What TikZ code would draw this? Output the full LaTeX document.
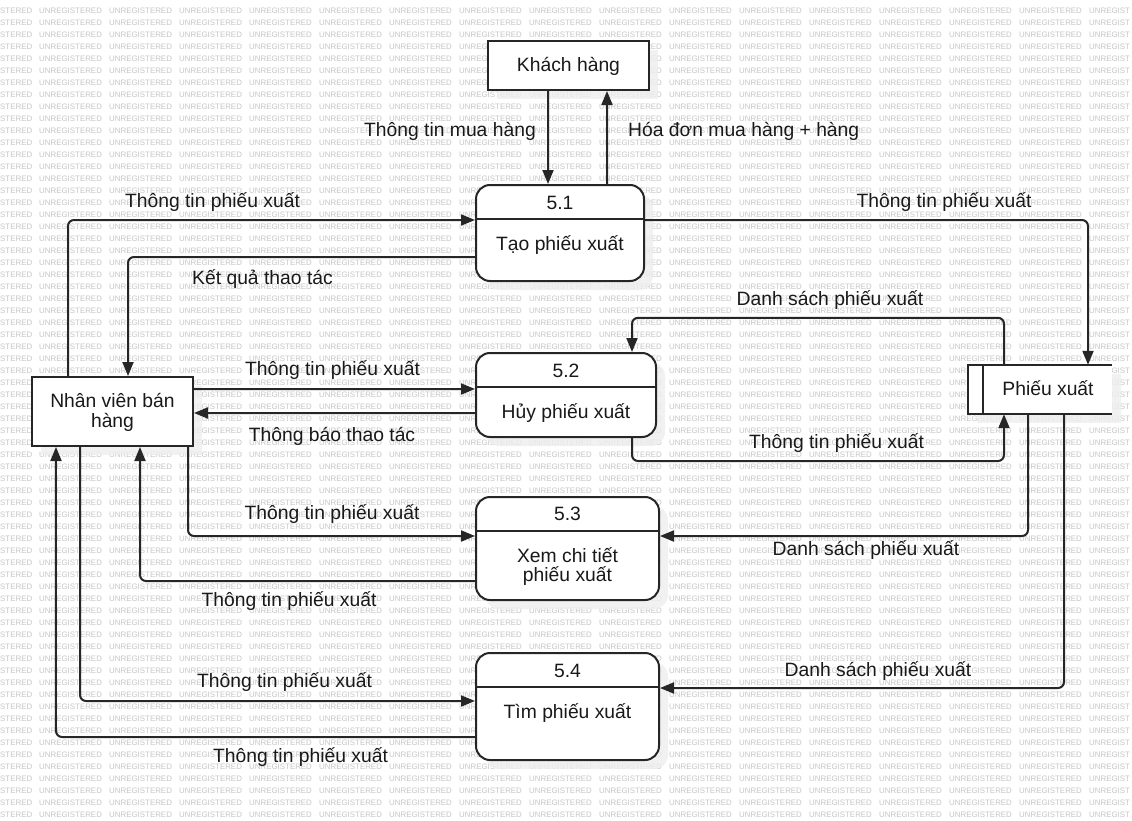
\documentclass[tikz,border=0pt]{standalone}
\usepackage{fontspec}
\setmainfont{Liberation Sans}
\usetikzlibrary{arrows.meta,shadows}
\definecolor{wmgray}{RGB}{198,198,198}
\definecolor{ink}{RGB}{38,38,38}
\definecolor{txtcol}{RGB}{25,25,25}
\definecolor{shade}{RGB}{238,238,238}
\newcommand\wmline{\makebox[39bp][l]{STERED}\foreach \i in {1,...,15}{\makebox[70bp][l]{UNREGISTERED}}UNREGIST}
\tikzset{
  wmtext/.style={anchor=base west, inner sep=0pt, text=wmgray, font=\fontsize{7.9bp}{8bp}\selectfont},
  boxshadow/.style={drop shadow={shadow xshift=9bp, shadow yshift=-9bp, fill=shade, opacity=0.8}},
  entity/.style={rectangle, draw=ink, line width=2bp, fill=white, inner sep=0pt, boxshadow},
  procbox/.style={rectangle, rounded corners=14bp, draw=ink, line width=2bp, fill=white, inner sep=0pt, boxshadow},
  storebox/.style={rectangle, fill=white, inner sep=0pt, boxshadow},
  txt/.style={inner sep=0pt, anchor=base, text=txtcol, font=\fontsize{19.3bp}{19.5bp}\selectfont},
  flow/.style={draw=ink, line width=2bp, rounded corners=6bp, -{Triangle[length=14bp,width=11bp]}},
  rulel/.style={draw=ink, line width=2bp},
}
\begin{document}
\begin{tikzpicture}[x=1bp,y=-1bp]
\useasboundingbox (0,0) rectangle (1132,821);
\fill[white] (0,0) rectangle (1132,821);
% watermark
\foreach \k in {0,...,67}{
  \node[wmtext] (wm\k) at (0, {13.55+12*\k}) {\wmline};
}

% boxes
\node[entity, minimum width=161bp, minimum height=49bp] (kh) at (568.5,65.5) {};
\node[txt] (khT) at (568.5,71.7) {Khách hàng};

\node[entity, minimum width=161bp, minimum height=69bp] (nv) at (112.5,411.5) {};
\node[txt] (nvT1) at (112.5,407.7) {Nhân viên bán};
\node[txt] (nvT2) at (112.5,427) {hàng};

\node[storebox, minimum width=144bp, minimum height=49bp] (px) at (1040,389.5) {};
\draw[rulel] (px.north east) -- (px.north west) -- (px.south west) -- (px.south east);
\draw[rulel] ([xshift=15bp]px.north west) -- ([xshift=15bp]px.south west);
\node[txt] (pxT) at (1048,395.7) {Phiếu xuất};

\node[procbox, minimum width=168bp, minimum height=96bp] (p1) at (560,233) {};
\draw[rulel] ([yshift=-34.5bp]p1.north west) -- ([yshift=-34.5bp]p1.north east);
\node[txt] (p1a) at (560,209) {5.1};
\node[txt] (p1b) at (560,250) {Tạo phiếu xuất};

\node[procbox, minimum width=180bp, minimum height=84bp] (p2) at (566,395) {};
\draw[rulel] ([yshift=-34.5bp]p2.north west) -- ([yshift=-34.5bp]p2.north east);
\node[txt] (p2a) at (566,377.5) {5.2};
\node[txt] (p2b) at (566,418) {Hủy phiếu xuất};

\node[procbox, minimum width=183bp, minimum height=103bp] (p3) at (567.5,548.5) {};
\draw[rulel] ([yshift=-34.5bp]p3.north west) -- ([yshift=-34.5bp]p3.north east);
\node[txt] (p3a) at (567.5,520.5) {5.3};
\node[txt] (p3b) at (567.5,562.7) {Xem chi tiết};
\node[txt] (p3c) at (567.5,581.5) {phiếu xuất};

\node[procbox, minimum width=183bp, minimum height=107bp] (p4) at (567.5,706.5) {};
\draw[rulel] ([yshift=-34.5bp]p4.north west) -- ([yshift=-34.5bp]p4.north east);
\node[txt] (p4a) at (567.5,677) {5.4};
\node[txt] (p4b) at (567.5,718.5) {Tìm phiếu xuất};

% connectors
\draw[flow] ([xshift=-20.5bp]kh.south) -- ([xshift=-12bp]p1.north);
\draw[flow] ([xshift=47bp]p1.north) -- ([xshift=38.5bp]kh.south);
\draw[flow] ([xshift=-44.5bp]nv.north) |- ([yshift=13bp]p1.west);
\draw[flow] ([yshift=-24bp]p1.west) -| ([xshift=15.5bp]nv.north);
\draw[flow] ([yshift=13bp]p1.east) -| ([xshift=48bp]px.north);
\draw[flow] ([xshift=-36bp]px.north) -- ++(0,-47) -| ([xshift=66bp]p2.north);
\draw[flow] ([xshift=66bp]p2.south) -- ++(0,23) -| ([xshift=-36bp]px.south);
\draw[flow] ([yshift=22.5bp]nv.east) -- ([yshift=6bp]p2.west);
\draw[flow] ([yshift=-18bp]p2.west) -- ([yshift=-1.5bp]nv.east);
\draw[flow] ([xshift=75.5bp]nv.south) |- ([yshift=12.5bp]p3.west);
\draw[flow] ([yshift=-32.5bp]p3.west) -| ([xshift=27.5bp]nv.south);
\draw[flow] ([xshift=-32.5bp]nv.south) |- ([yshift=5.5bp]p4.west);
\draw[flow] ([yshift=-30.5bp]p4.west) -| ([xshift=-56.5bp]nv.south);
\draw[flow] ([xshift=-12bp]px.south) |- ([yshift=12.5bp]p3.east);
\draw[flow] ([xshift=24bp]px.south) |- ([yshift=18.5bp]p4.east);

% labels
\node[txt, anchor=base east] (l1) at (536,136) {Thông tin mua hàng};
\node[txt, anchor=base west] (l2) at (628,136) {Hóa đơn mua hàng + hàng};
\node[txt] (l3) at (212.5,207.5) {Thông tin phiếu xuất};
\node[txt] (l4) at (262.5,284) {Kết quả thao tác};
\node[txt] (l5) at (944,207.5) {Thông tin phiếu xuất};
\node[txt] (l6) at (830,305) {Danh sách phiếu xuất};
\node[txt] (l7) at (836.5,448) {Thông tin phiếu xuất};
\node[txt] (l8) at (332.5,375.5) {Thông tin phiếu xuất};
\node[txt] (l9) at (332,441.5) {Thông báo thao tác};
\node[txt] (l10) at (332,519.5) {Thông tin phiếu xuất};
\node[txt] (l11) at (289,606.5) {Thông tin phiếu xuất};
\node[txt] (l12) at (284.5,687.5) {Thông tin phiếu xuất};
\node[txt] (l13) at (300.5,762.5) {Thông tin phiếu xuất};
\node[txt] (l14) at (866,555.5) {Danh sách phiếu xuất};
\node[txt] (l15) at (878,676) {Danh sách phiếu xuất};
\end{tikzpicture}
\end{document}
